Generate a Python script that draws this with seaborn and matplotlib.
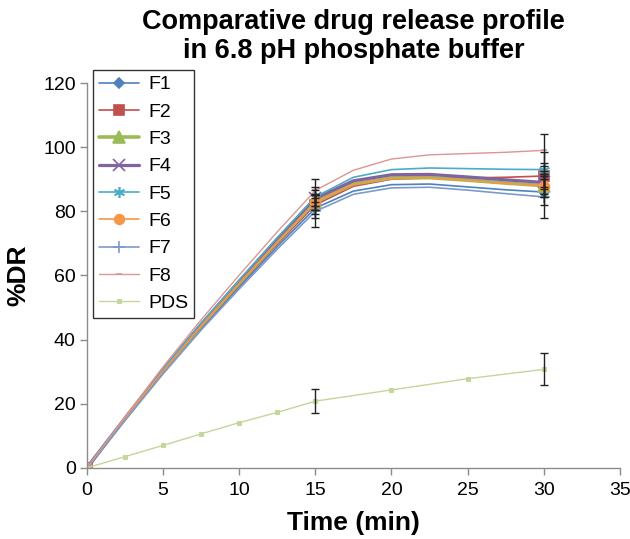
import matplotlib
matplotlib.use("Agg")
import matplotlib.pyplot as plt
import seaborn as sns
import pandas as pd
import numpy as np

# ---- data ----
times = [0, 2.5, 5, 7.5, 10, 12.5, 15, 17.5, 20, 22.5, 25, 27.5, 30]
F1 = [0, 15.0, 29.6, 43.4, 56.4, 69.0, 81.0, 86.3, 88.3, 88.5, 87.6, 86.7, 86.0]
F2 = [0, 15.1, 29.9, 43.8, 57.0, 69.8, 82.0, 87.8, 90.0, 90.4, 90.4, 90.6, 91.0]
F3 = [0, 15.3, 30.3, 44.4, 57.6, 70.6, 83.0, 88.5, 90.4, 90.5, 89.7, 88.8, 88.0]
F4 = [0, 15.5, 30.6, 44.8, 58.2, 71.3, 84.0, 89.5, 91.4, 91.5, 90.7, 89.8, 89.0]
F5 = [0, 15.6, 30.8, 45.0, 58.6, 71.8, 84.5, 90.6, 93.0, 93.5, 93.3, 93.1, 93.0]
F6 = [0, 15.3, 30.2, 44.3, 57.6, 70.5, 83.0, 88.4, 90.3, 90.4, 89.6, 88.7, 88.0]
F7 = [0, 14.8, 29.3, 43.0, 55.8, 68.2, 80.0, 85.3, 87.3, 87.5, 86.6, 85.5, 84.5]
F8 = [0, 15.9, 31.5, 46.2, 60.1, 73.6, 86.5, 92.8, 96.3, 97.6, 98.0, 98.4, 99.0]
pds_times = [0, 2.5, 5, 7.5, 10, 12.5, 15, 20, 25, 30]
PDS = [0, 3.5, 7.0, 10.6, 14.1, 17.3, 20.8, 24.3, 27.8, 30.7]

err_times = [15, 30]
F_err = {
    "F1": [3.0, 4.0], "F2": [3.0, 4.0], "F3": [2.5, 3.5], "F4": [2.5, 3.5],
    "F5": [3.0, 5.5], "F6": [2.5, 3.5], "F7": [5.0, 6.5], "F8": [3.5, 5.0],
}
PDS_err = [3.7, 5.0]

series = ["F1", "F2", "F3", "F4", "F5", "F6", "F7", "F8"]
values = [F1, F2, F3, F4, F5, F6, F7, F8]

colors = {
    "F1": "#4F81BD", "F2": "#C0504D", "F3": "#9BBB59", "F4": "#8064A2",
    "F5": "#4BACC6", "F6": "#F79646", "F7": "#7C9BCB", "F8": "#D99694",
    "PDS": "#C3D69B",
}
markers = {"F1": "D", "F2": "s", "F3": "^", "F4": "x", "F5": (6, 2, 0),
           "F6": "o", "F7": "+", "F8": "_", "PDS": "s"}
msizes = {"F1": 5, "F2": 7, "F3": 8, "F4": 8, "F5": 8, "F6": 7, "F7": 8,
          "F8": 5, "PDS": 2.2}
lws = {"F1": 1.2, "F2": 1.2, "F3": 2.6, "F4": 2.3, "F5": 1.2, "F6": 1.2,
       "F7": 1.2, "F8": 1.0, "PDS": 1.0}

sns.set_theme(style="white")
plt.rcParams["font.family"] = ["Liberation Sans", "DejaVu Sans"]
plt.rcParams["text.color"] = "black"
plt.rcParams["axes.labelcolor"] = "black"

fig = plt.figure(figsize=(6.3, 5.39), dpi=100)
ax = fig.add_axes([0.138, 0.132, 0.846, 0.714])

for name, vals in zip(series, values):
    df = pd.DataFrame({"t": times, "v": vals})
    sns.lineplot(data=df, x="t", y="v", ax=ax, color=colors[name],
                 marker=markers[name], markersize=msizes[name],
                 markevery=[0, 6, 12], lw=lws[name], label=name,
                 markeredgecolor=colors[name], markeredgewidth=1.2)

dfp = pd.DataFrame({"t": pds_times, "v": PDS})
sns.lineplot(data=dfp, x="t", y="v", ax=ax, color=colors["PDS"],
             marker="s", markersize=msizes["PDS"], lw=lws["PDS"], label="PDS",
             markeredgecolor=colors["PDS"])

# error bars
for name, vals in zip(series, values):
    yv = [vals[times.index(t)] for t in err_times]
    ax.errorbar(err_times, yv, yerr=F_err[name], fmt="none", ecolor="#222222",
                elinewidth=1.0, capsize=3, capthick=1.0, zorder=5)
ax.errorbar(err_times, [PDS[pds_times.index(t)] for t in err_times],
            yerr=PDS_err, fmt="none", ecolor="#222222", elinewidth=1.0,
            capsize=3, capthick=1.0, zorder=5)

ax.set_xlim(0, 35)
ax.set_ylim(0, 120)
ax.set_xticks(range(0, 36, 5))
ax.set_yticks(range(0, 121, 20))
for s in ["top", "right"]:
    ax.spines[s].set_visible(False)
for s in ["left", "bottom"]:
    ax.spines[s].set_color("#8C8C8C")
    ax.spines[s].set_linewidth(1.0)
ax.tick_params(axis="both", which="both", direction="out", length=5,
               width=1.0, color="#8C8C8C", labelsize=14, labelcolor="black",
               bottom=True, left=True)
ax.tick_params(axis="x", pad=5)
ax.tick_params(axis="y", pad=3)

ax.set_xlabel("Time (min)", fontsize=19, fontweight="bold", labelpad=9)
ax.set_ylabel("%DR", fontsize=19, fontweight="bold", labelpad=9)
ax.set_title("Comparative drug release profile\nin 6.8 pH phosphate buffer",
             fontsize=19.5, fontweight="bold", pad=18, linespacing=1.15,
             color="black")

leg = ax.legend(loc="upper left", bbox_to_anchor=(0.011, 1.034),
                borderaxespad=0, frameon=True, fancybox=False, fontsize=14,
                labelspacing=0.5, handlelength=2.1, handletextpad=0.45,
                borderpad=0.3)
leg.get_frame().set_edgecolor("black")
leg.get_frame().set_linewidth(1.0)

fig.savefig("out.png", dpi=100)
